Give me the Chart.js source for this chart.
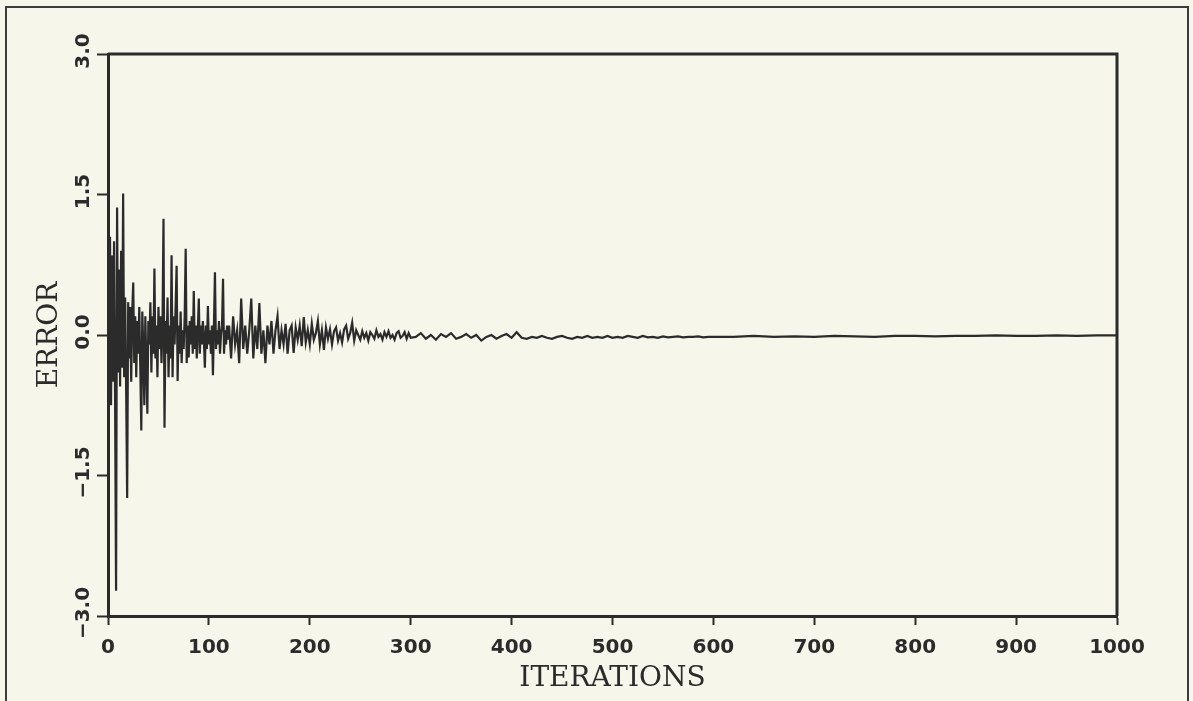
<!DOCTYPE html>
<html><head><meta charset="utf-8">
<script src="https://cdn.jsdelivr.net/npm/chart.js@4.4.0/dist/chart.umd.min.js"></script>
<style>
html,body{margin:0;padding:0;background:#f7f6ea;}
#wrap{position:relative;width:1193px;height:701px;overflow:hidden;background:#f7f6ea;}
#frame{position:absolute;left:5px;top:6px;width:1180px;height:740px;border:2px solid #3c3c3c;}
canvas{position:absolute;left:0;top:0;}
</style></head><body>
<div id="wrap"><div id="frame"></div><canvas id="c" width="1193" height="701"></canvas></div>
<script>
// ---- data ----
// iterations 0..119, step 1
const errEarly = [
 0.95,-0.6,1.05,-0.75,0.85,-0.5,1.0,-0.65,-2.73,1.36,
 -0.4,0.7,-0.55,0.9,-0.35,1.51,-0.45,0.4,-0.6,-1.74,
 0.35,-0.25,0.3,-0.5,0.25,0.56,-0.3,0.2,-0.45,0.15,
 -0.2,0.3,-0.35,-1.02,0.25,-0.15,-0.75,0.2,-0.3,-0.84,
 0.15,-0.1,0.35,-0.4,0.2,-0.2,0.71,-0.25,0.1,-0.45,
 0.3,-0.15,0.2,-0.3,0.1,1.24,-0.99,0.15,-0.2,0.4,
 -0.45,0.1,-0.25,0.85,-0.45,0.2,-0.1,0.3,0.74,-0.49,
 0.1,-0.2,0.25,-0.3,0.05,-0.15,0.2,0.92,-0.3,0.1,
 -0.24,0.15,-0.1,0.2,-0.2,0.47,-0.15,0.1,-0.25,0.05,
 0.39,-0.2,0.1,-0.1,0.15,-0.05,-0.35,0.1,-0.15,0.31,
 -0.1,0.05,-0.2,0.1,-0.43,0.1,0.67,-0.15,0.05,-0.1,
 0.15,-0.2,0.0,0.1,0.6,-0.2,0.05,-0.1,0.1,-0.05
];
// iterations 120..300, step 2
const errMid = [
 0.1,-0.25,0.2,-0.1,0.05,-0.3,0.39,-0.15,0.1,-0.2,
 0.05,0.39,-0.25,0.1,-0.15,0.34,-0.2,0.05,-0.3,0.1,
 -0.1,0.15,-0.2,0.05,0.2,-0.15,0.05,-0.1,0.12,-0.2,
 0.05,0.1,-0.19,0.08,-0.05,0.1,-0.12,0.19,-0.08,0.05,
 -0.1,0.12,-0.05,0.02,0.15,-0.1,0.05,-0.16,0.08,-0.04,
 0.06,-0.1,0.04,0.08,-0.06,0.02,-0.08,0.06,0.1,-0.04,
 0.02,0.13,-0.06,0.05,0.0,-0.05,0.04,-0.03,0.02,-0.06,
 0.03,0.0,-0.04,0.05,-0.02,0.01,-0.05,0.03,-0.02,0.04,
 -0.03,0.0,-0.05,0.02,0.04,-0.03,-0.01,0.03,-0.04,0.02,
 -0.03
];
// iterations 305..600, step 5
const errLate = [
 -0.02,0.02,-0.04,0.0,-0.05,0.01,-0.02,0.02,-0.04,-0.02,
 0.01,-0.03,0.0,-0.06,-0.02,0.0,-0.04,-0.01,0.01,-0.03,
 0.03,-0.03,-0.04,-0.02,-0.03,-0.01,-0.03,-0.04,-0.02,-0.01,
 -0.03,-0.04,-0.02,-0.03,-0.01,-0.03,-0.02,-0.03,-0.01,-0.03,
 -0.02,-0.03,-0.01,-0.02,-0.03,-0.01,-0.025,-0.02,-0.03,-0.015,
 -0.025,-0.02,-0.015,-0.025,-0.02,-0.02,-0.015,-0.025,-0.02,-0.02
];
// iterations 620..1000, step 20
const errTail = [
 -0.02,-0.01,-0.02,-0.015,-0.02,-0.01,-0.015,-0.02,-0.01,-0.01,
 -0.015,-0.01,-0.01,-0.005,-0.01,-0.01,-0.005,-0.01,-0.005,-0.005
];
const segments = [
 {start:0, step:1, values:errEarly},
 {start:120, step:2, values:errMid},
 {start:305, step:5, values:errLate},
 {start:620, step:20, values:errTail}
];
const xTicks = [0,100,200,300,400,500,600,700,800,900,1000];
const yTickValues = [-3,-1.5,0,1.5,3];
const yTickLabels = ['\u22123.0','\u22121.5','0.0','1.5','3.0'];
const xTitle = 'ITERATIONS';
const yTitle = 'ERROR';

// ---- build ----
const points = [];
segments.forEach(s => s.values.forEach((v,i) => points.push({x: s.start + i*s.step, y: v})));

const ink = '#2b2b2b';
const deco = {
  id: 'deco',
  afterDraw(chart){
    const {ctx, chartArea:a, scales:{y}} = chart;
    ctx.save();
    ctx.strokeStyle = ink; ctx.lineWidth = 3;
    ctx.beginPath();
    ctx.moveTo(a.left, a.top); ctx.lineTo(a.right, a.top); ctx.lineTo(a.right, a.bottom);
    ctx.stroke();
    ctx.font = 'bold 20px "DejaVu Sans"';
    ctx.fillStyle = ink; ctx.textAlign = 'center'; ctx.textBaseline = 'middle';
    yTickValues.forEach((v,i) => {
      const py = y.getPixelForValue(v);
      ctx.save(); ctx.translate(84, py - 3); ctx.rotate(-Math.PI/2);
      ctx.fillText(yTickLabels[i], 0, 0);
      ctx.restore();
    });
    ctx.restore();
  }
};

new Chart(document.getElementById('c'), {
  type: 'scatter',
  data: { datasets: [{ data: points, showLine: true, borderColor: ink, borderWidth: 2.2, pointRadius: 0, tension: 0 }] },
  options: {
    responsive: false, animation: false,
    layout: { padding: { top: 54, right: 76, left: 0, bottom: 0 } },
    plugins: { legend: { display: false }, tooltip: { enabled: false } },
    scales: {
      x: {
        type: 'linear', min: 0, max: 1000,
        afterFit(s){ s.height = 85; },
        afterBuildTicks(s){ s.ticks = xTicks.map(v => ({value: v})); },
        ticks: { color: ink, padding: 11, font: { family: 'DejaVu Sans', size: 20, weight: 'bold' }, maxRotation: 0,
                 callback: v => String(v) },
        grid: { drawOnChartArea: false, drawTicks: true, tickLength: 9, tickWidth: 2, tickColor: ink },
        border: { display: true, color: ink, width: 3 },
        title: { display: true, text: xTitle, color: ink, font: { family: 'DejaVu Serif', size: 28 }, padding: { top: 0, bottom: 5 } }
      },
      y: {
        type: 'linear', min: -3, max: 3,
        afterFit(s){ s.width = 108; },
        afterBuildTicks(s){ s.ticks = yTickValues.map(v => ({value: v})); },
        ticks: { color: 'rgba(0,0,0,0)', font: { size: 20 } },
        grid: { drawOnChartArea: false, drawTicks: true, tickLength: 11, tickWidth: 2, tickColor: ink },
        border: { display: true, color: ink, width: 3 },
        title: { display: true, text: yTitle, color: ink, font: { family: 'DejaVu Serif', size: 28 }, padding: { top: 33, bottom: 0 } }
      }
    }
  },
  plugins: [deco]
});
</script>
</body></html>
